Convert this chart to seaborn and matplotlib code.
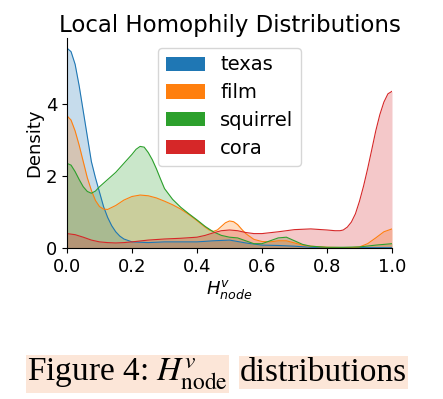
import numpy as np
import pandas as pd
import matplotlib
matplotlib.use("Agg")
import matplotlib.pyplot as plt
from matplotlib.patches import Patch
import seaborn as sns

# ---- data (density estimate values) ----
texas_h = [0, 0.0125, 0.025, 0.0375, 0.05, 0.0625, 0.075, 0.0875, 0.1, 0.1125,
           0.125, 0.1375, 0.15, 0.1625, 0.175, 0.2, 0.25, 0.3, 0.35, 0.4,
           0.45, 0.5, 0.55, 0.6, 0.65, 0.7, 0.75, 0.8, 0.9, 1.0]
texas_d = [5.55, 5.45, 5.1, 4.5, 3.8, 3.1, 2.4, 1.95, 1.55, 1.15,
           0.85, 0.62, 0.45, 0.33, 0.25, 0.17, 0.15, 0.17, 0.17, 0.17,
           0.2, 0.22, 0.14, 0.08, 0.07, 0.05, 0.02, 0.01, 0.01, 0.01]

film_h = [0, 0.0125, 0.025, 0.0375, 0.05, 0.0625, 0.075, 0.0875, 0.1, 0.1125,
          0.125, 0.15, 0.175, 0.2, 0.225, 0.25, 0.275, 0.3, 0.325, 0.35,
          0.375, 0.4, 0.425, 0.4375, 0.45, 0.4625, 0.475, 0.4875, 0.5, 0.5125,
          0.525, 0.5375, 0.55, 0.575, 0.6, 0.625, 0.65, 0.675, 0.7, 0.725,
          0.75, 0.8, 0.85, 0.875, 0.9, 0.925, 0.95, 0.975, 1.0]
film_d = [3.67, 3.55, 3.25, 2.85, 2.4, 1.95, 1.6, 1.32, 1.15, 1.08,
          1.07, 1.18, 1.33, 1.43, 1.47, 1.45, 1.39, 1.3, 1.2, 1.08,
          0.93, 0.76, 0.58, 0.5, 0.46, 0.5, 0.6, 0.7, 0.75, 0.73,
          0.65, 0.52, 0.4, 0.24, 0.18, 0.17, 0.2, 0.2, 0.14, 0.08,
          0.05, 0.02, 0.01, 0.01, 0.03, 0.12, 0.28, 0.45, 0.53]

squirrel_h = [0, 0.0125, 0.025, 0.0375, 0.05, 0.0625, 0.075, 0.0875, 0.1, 0.125,
              0.15, 0.175, 0.2, 0.2125, 0.225, 0.2375, 0.25, 0.2625, 0.275, 0.2875,
              0.3, 0.325, 0.35, 0.375, 0.4, 0.425, 0.45, 0.475, 0.5, 0.525,
              0.55, 0.575, 0.6, 0.625, 0.65, 0.675, 0.7, 0.725, 0.75, 0.8,
              0.85, 0.9, 0.95, 1.0]
squirrel_d = [2.35, 2.3, 2.12, 1.9, 1.7, 1.57, 1.52, 1.58, 1.7, 1.9,
              2.1, 2.35, 2.6, 2.74, 2.82, 2.8, 2.65, 2.45, 2.2, 1.92,
              1.65, 1.35, 1.13, 0.95, 0.78, 0.6, 0.45, 0.35, 0.3, 0.28,
              0.2, 0.12, 0.12, 0.2, 0.28, 0.3, 0.2, 0.1, 0.05, 0.02,
              0.02, 0.03, 0.08, 0.12]

cora_h = [0, 0.025, 0.05, 0.075, 0.1, 0.125, 0.15, 0.175, 0.2, 0.25,
          0.3, 0.35, 0.4, 0.425, 0.45, 0.475, 0.5, 0.525, 0.55, 0.575,
          0.6, 0.65, 0.7, 0.75, 0.8, 0.825, 0.84, 0.85, 0.8625, 0.875,
          0.8875, 0.9, 0.9125, 0.925, 0.9375, 0.95, 0.9625, 0.975, 0.9875, 1.0]
cora_d = [0.4, 0.37, 0.3, 0.22, 0.17, 0.15, 0.14, 0.15, 0.17, 0.22,
          0.25, 0.27, 0.3, 0.35, 0.42, 0.48, 0.5, 0.48, 0.43, 0.4,
          0.4, 0.45, 0.51, 0.53, 0.5, 0.48, 0.48, 0.5, 0.58, 0.72,
          0.95, 1.3, 1.72, 2.2, 2.72, 3.25, 3.7, 4.05, 4.28, 4.35]

datasets = ["texas", "film", "squirrel", "cora"]
x_ticks = [0.0, 0.2, 0.4, 0.6, 0.8, 1.0]
y_ticks = [0, 2, 4]

series = {
    "texas": (texas_h, texas_d),
    "film": (film_h, film_d),
    "squirrel": (squirrel_h, squirrel_d),
    "cora": (cora_h, cora_d),
}
df = pd.concat(
    [pd.DataFrame({"h": hs, "density": ds, "dataset": name})
     for name, (hs, ds) in series.items()],
    ignore_index=True,
)

palette = dict(zip(datasets, sns.color_palette("tab10", 4)))

fig = plt.figure(figsize=(4.43, 3.99), dpi=100)
ax = fig.add_axes([67 / 443, 1 - 248 / 399, 325 / 443, 210 / 399])

sns.lineplot(data=df, x="h", y="density", hue="dataset", hue_order=datasets,
             palette=palette, linewidth=0.8, ax=ax, legend=False)
for name in datasets:
    sub = df[df["dataset"] == name]
    ax.fill_between(sub["h"], 0, sub["density"], color=palette[name],
                    alpha=0.25, linewidth=0)

ax.set_xlim(0, 1)
ax.set_ylim(0, 5.83)
ax.set_xticks(x_ticks)
ax.set_yticks(y_ticks)
ax.tick_params(labelsize=13)
ax.set_xlabel(r"$H^{v}_{node}$", fontsize=13, labelpad=2)
ax.set_ylabel("Density", fontsize=13, labelpad=2)
ax.set_title("Local Homophily Distributions", fontsize=16.5, pad=4)
sns.despine(ax=ax)

handles = [Patch(facecolor=palette[n], edgecolor="none") for n in datasets]
ax.legend(handles, datasets, loc="upper center", fontsize=14,
          bbox_to_anchor=(0.5, 1.0), handlelength=2.0, handleheight=0.75,
          labelspacing=0.45, borderpad=0.4)

# caption below the chart
cap_kw = dict(fontsize=24, family="Liberation Serif", math_fontfamily="stix",
              va="baseline", ha="left",
              bbox=dict(facecolor="#fce6d8", edgecolor="none", pad=1))
fig.text(27 / 443, 1 - 381 / 399, r"Figure 4: $H^{v}_{\mathrm{node}}$", **cap_kw)
fig.text(240 / 443, 1 - 381 / 399, "distributions", **cap_kw)

fig.savefig("out.png", dpi=100)
